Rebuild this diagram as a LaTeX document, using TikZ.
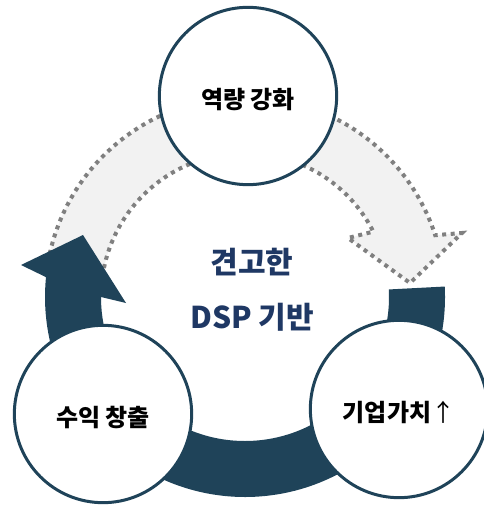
\documentclass[tikz,border=0pt]{standalone}
\usepackage{fontspec}
\setmainfont{Noto Sans CJK KR}
\definecolor{navy}{RGB}{31,67,89}
\definecolor{textnavy}{RGB}{31,56,100}
\definecolor{dotgrey}{RGB}{128,128,128}
\definecolor{bandgrey}{RGB}{242,242,242}
\begin{document}
\begin{tikzpicture}[x=0.75pt,y=0.75pt,yscale=-1,xscale=1,
	stage/.style={circle,draw=navy,line width=2.25pt,fill=white,minimum size=133pt,inner sep=0pt,text height=21pt,text depth=2.2pt,font=\bfseries\fontsize{18}{20}\selectfont}]
		\useasboundingbox (0,0) rectangle (483,505);
		% grey band, top
		\draw [dotgrey, fill=bandgrey, line width=3pt, dash pattern={on 3pt off 3.4pt}] ([shift={(245,297)}]190:200) arc[start angle=190,end angle=342,radius=200] -- (462,233) -- (410,283) -- (348,238) -- ([shift={(245,297)}]333:144) arc[start angle=333,end angle=190,radius=144] -- cycle ;
		% dark band, bottom
		\fill [navy] ([shift={(245,297)}]-3:200) arc[start angle=-3,end angle=185.7,radius=200] -- (21,265) -- (83,235) -- (126,303) -- ([shift={(245,297)}]180:144) arc[start angle=180,end angle=-3,radius=144] -- cycle ;
		\node [stage] (build) at (248,96) {역량 강화};
		\node [stage] (value) at (399,409) {기업가치{\mdseries ↑}};
		\node [stage] (profit) at (103,414) {수익 창출};
		\node [text=textnavy, font=\bfseries\fontsize{22.5}{41}\selectfont, align=center] (base) at (252,290) {견고한\\DSP 기반};
		\end{tikzpicture}
\end{document}
